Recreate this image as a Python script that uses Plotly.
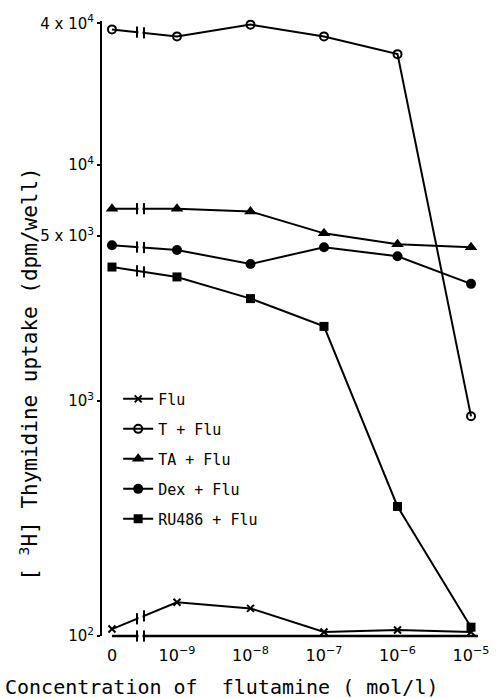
import plotly.graph_objects as go
import numpy as np

# ---- data ----
conc_labels = ["0", "10<sup>−9</sup>", "10<sup>−8</sup>", "10<sup>−7</sup>", "10<sup>−6</sup>", "10<sup>−5</sup>"]
flu = [107, 139, 131, 104, 106, 104]
t_flu = [37700, 35200, 39500, 35200, 29600, 857]
ta_flu = [6530, 6530, 6350, 5130, 4610, 4480]
dex_flu = [4570, 4360, 3800, 4480, 4100, 3130]
ru486_flu = [3690, 3350, 2710, 2065, 355, 109]

series_names = ["Flu", "T + Flu", "TA + Flu", "Dex + Flu", "RU486 + Flu"]
series_values = [flu, t_flu, ta_flu, dex_flu, ru486_flu]

ytick_vals = [100, 1000, 5000, 10000, 40000]
ytick_text = ["10<sup>2</sup>", "10<sup>3</sup>", "5 x 10<sup>3</sup>", "10<sup>4</sup>", "4 x 10<sup>4</sup>"]

# ---- layout helpers ----
ZERO_POS = 1 - 65 / 73.5          # position of the "0" category (axis break before 10^-9)
x_pos = [ZERO_POS] + [1, 2, 3, 4, 5]
BREAK_L, BREAK_R = 0.456, 0.551   # break marks on the lines
XR = [-0.02, 5.095]
YR = [2, 4.612]
MONO = "DejaVu Sans Mono"

styles = [
    dict(symbol="x-thin-open", size=7, line=dict(width=2, color="black"), color="black"),
    dict(symbol="circle-open", size=8, line=dict(width=2, color="black"), color="black"),
    dict(symbol="triangle-up", size=11, color="black"),
    dict(symbol="circle", size=10, color="black"),
    dict(symbol="square", size=9, color="black"),
]

fig = go.Figure()
for i, (name, vals, st) in enumerate(zip(series_names, series_values, styles)):
    fig.add_trace(go.Scatter(
        x=x_pos, y=vals, mode="lines+markers", name=name,
        line=dict(color="black", width=2), marker=st,
        legendgroup=f"g{i}", cliponaxis=False,
    ))

# break ticks on each line (log interpolation between "0" and 10^-9 points)
bx, by = [], []
for vals in series_values:
    for b in (BREAK_L, BREAK_R):
        t = (b - x_pos[0]) / (x_pos[1] - x_pos[0])
        by.append(10 ** (np.log10(vals[0]) + t * (np.log10(vals[1]) - np.log10(vals[0]))))
        bx.append(b)
# break ticks on the x axis
bx += [BREAK_L, BREAK_R]
by += [10 ** YR[0], 10 ** YR[0]]
fig.add_trace(go.Scatter(
    x=bx, y=by, mode="markers", showlegend=False, cliponaxis=False, hoverinfo="skip",
    marker=dict(symbol="line-ns", size=8, line=dict(width=2, color="black")),
))

# x axis line (starts at the "0" category)
fig.add_shape(type="line", xref="x", yref="paper", x0=ZERO_POS, x1=XR[1], y0=0, y1=0,
              line=dict(color="black", width=2.5), layer="below")
# white gaps for the axis break
for y0, y1 in ((-0.02, 0.1), (0.6, 1.02)):
    fig.add_shape(type="rect", xref="x", yref="paper", x0=0.476, x1=0.531, y0=y0, y1=y1,
                  fillcolor="white", line=dict(width=0), layer="above")

fig.update_layout(
    width=504, height=698,
    margin=dict(l=102, r=26, t=14, b=62),
    plot_bgcolor="white", paper_bgcolor="white",
    font=dict(family="DejaVu Sans", size=14, color="black"),
    showlegend=True,
    legend=dict(x=0.043, y=0.412, xanchor="left", yanchor="top",
                traceorder="grouped", tracegroupgap=7.5,
                font=dict(family=MONO, size=15), bgcolor="rgba(0,0,0,0)", itemwidth=30),
    xaxis=dict(range=XR, showgrid=False, zeroline=False, showline=False,
               tickvals=x_pos, ticktext=conc_labels, ticks="", ticklabelstandoff=8,
               tickfont=dict(size=16)),
    yaxis=dict(type="log", range=YR, showgrid=False, zeroline=False,
               showline=True, linecolor="black", linewidth=2,
               tickvals=ytick_vals, ticktext=ytick_text, ticks="outside",
               ticklen=3, tickwidth=2, tickcolor="black", tickfont=dict(size=15)),
    annotations=[
        dict(text="Concentration of  flutamine ( mol/l)", xref="paper", yref="paper",
             x=0.319, y=-0.0836, xanchor="center", yanchor="middle", showarrow=False,
             font=dict(family=MONO, size=20)),
        dict(text="[ <sup>3</sup>H] Thymidine uptake (dpm/well)", xref="paper", yref="paper",
             x=-0.195, y=0.426, xanchor="center", yanchor="middle", showarrow=False,
             textangle=-90, font=dict(family=MONO, size=21)),
    ],
)

fig.write_html("out.html")
